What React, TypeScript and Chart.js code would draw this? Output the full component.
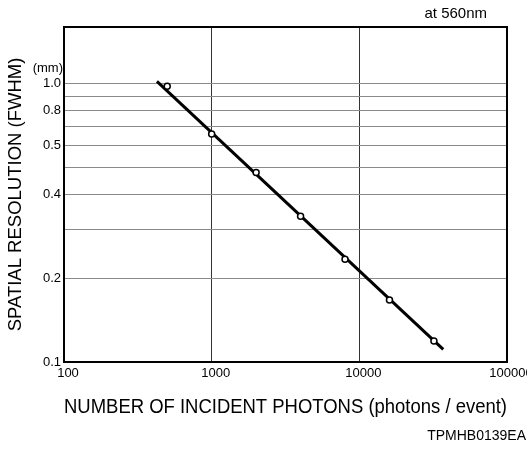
import React, { useEffect, useRef } from "react";
import { Chart, registerables } from "chart.js";

Chart.register(...registerables);

// Measured points (photons/event, FWHM mm)
const photons = [500, 1000, 2000, 4000, 8000, 16000, 32000];
const resolution = [0.98, 0.66, 0.48, 0.334, 0.234, 0.167, 0.119];

// Fitted line end points
const fitPhotons = [426, 37000];
const fitResolution = [1.02, 0.111];

const xTickValues = [100, 1000, 10000, 100000];
const xTickLabels = ["100", "1000", "10000", "100000"];

const yGridValues = [0.1, 0.2, 0.3, 0.4, 0.5, 0.6, 0.7, 0.8, 0.9, 1.0];
const yTickLabels = ["0.1", "0.2", "", "0.4", "", "0.5", "", "0.8", "", "1.0"];

const FONT = "'Liberation Sans', Arial, Helvetica, sans-serif";

const annotationPlugin = {
  id: "annotations",
  afterDraw(chart: any) {
    const { ctx, chartArea } = chart;
    ctx.save();
    ctx.strokeStyle = "#000";
    ctx.lineWidth = 2;
    ctx.strokeRect(chartArea.left, chartArea.top, chartArea.right - chartArea.left, chartArea.bottom - chartArea.top);
    ctx.fillStyle = "#000";
    ctx.textBaseline = "middle";
    ctx.font = `13px ${FONT}`;
    ctx.textAlign = "right";
    ctx.fillText("(mm)", 63, 68);
    ctx.font = `15px ${FONT}`;
    ctx.textAlign = "right";
    ctx.fillText("at 560nm", 487, 14);
    ctx.font = `14px ${FONT}`;
    ctx.textAlign = "right";
    ctx.fillText("TPMHB0139EA", 526, 436);
    ctx.restore();
  },
};

export default function App() {
  const canvasRef = useRef<HTMLCanvasElement | null>(null);

  useEffect(() => {
    if (!canvasRef.current) return;
    const chart = new Chart(canvasRef.current, {
      type: "line",
      data: {
        datasets: [
          {
            label: "points",
            data: photons.map((x, i) => ({ x, y: resolution[i] })),
            showLine: false,
            pointRadius: 3,
            pointBorderWidth: 1.5,
            pointBackgroundColor: "#fff",
            pointBorderColor: "#000",
            order: 0,
          },
          {
            label: "fit",
            data: fitPhotons.map((x, i) => ({ x, y: fitResolution[i] })),
            borderColor: "#000",
            borderWidth: 3,
            pointRadius: 0,
            fill: false,
            order: 1,
          },
        ],
      },
      options: {
        responsive: false,
        animation: false,
        devicePixelRatio: 1,
        layout: { padding: { left: 0, right: 20, top: 27, bottom: 0 } },
        plugins: {
          legend: { display: false },
          tooltip: { enabled: false },
          title: { display: false },
        },
        scales: {
          x: {
            type: "logarithmic",
            min: 100,
            max: 100000,
            afterBuildTicks: (scale: any) => {
              scale.ticks = xTickValues.map((v) => ({ value: v }));
            },
            afterFit: (scale: any) => {
              scale.height = 90;
              scale.paddingLeft = 0;
              scale.paddingRight = 0;
            },
            grid: { color: "#333", lineWidth: 1, drawTicks: false },
            border: { display: false },
            ticks: {
              autoSkip: false,
              maxRotation: 0,
              padding: 4,
              labelOffset: 4,
              color: "#000",
              font: { family: FONT, size: 13 },
              callback: (_v: any, i: number) => xTickLabels[i],
            },
            title: {
              display: true,
              text: "NUMBER OF INCIDENT PHOTONS (photons / event)",
              color: "#000",
              font: { family: FONT, size: 20 },
              padding: { top: 0, bottom: 33 },
            },
          },
          y: {
            type: "logarithmic",
            min: 0.1,
            max: 1.6,
            afterBuildTicks: (scale: any) => {
              scale.ticks = yGridValues.map((v) => ({ value: v }));
            },
            afterFit: (scale: any) => {
              scale.width = 64;
            },
            grid: { color: "#8a8a8a", lineWidth: 1, drawTicks: false },
            border: { display: false },
            ticks: {
              autoSkip: false,
              padding: 3,
              color: "#000",
              font: { family: FONT, size: 13 },
              callback: (_v: any, i: number) => yTickLabels[i],
            },
            title: {
              display: true,
              text: "SPATIAL RESOLUTION (FWHM)",
              color: "#000",
              font: { family: FONT, size: 18.5 },
              padding: { top: 5, bottom: 0 },
            },
          },
        },
      },
      plugins: [annotationPlugin],
    } as any);
    return () => chart.destroy();
  }, []);

  return (
    <div style={{ position: "absolute", left: 0, top: 0, width: 527, height: 452, background: "#fff" }}>
      <canvas ref={canvasRef} width={527} height={452} />
    </div>
  );
}
